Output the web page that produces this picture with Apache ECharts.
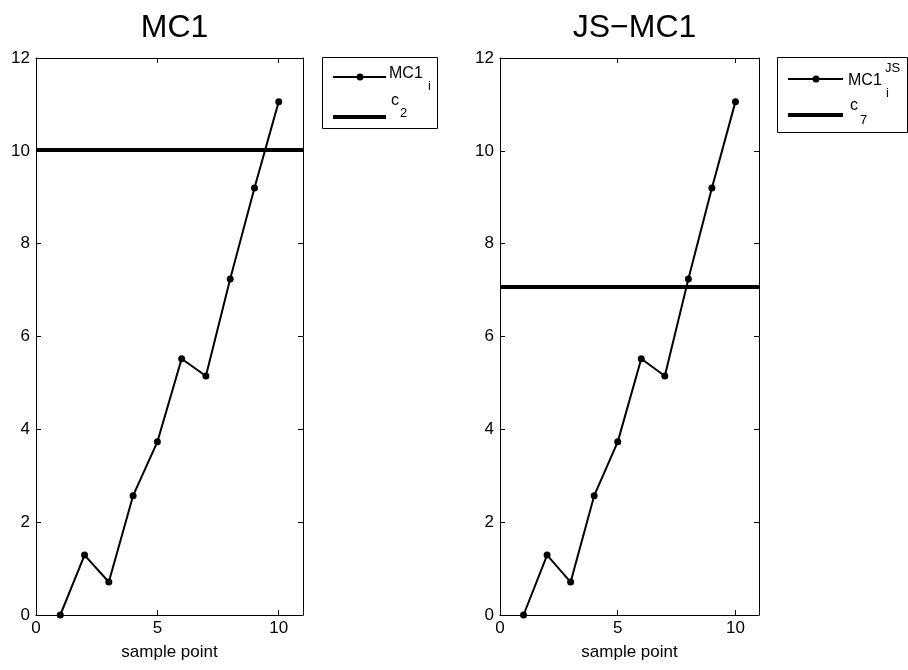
<!DOCTYPE html>
<html>
<head>
<meta charset="utf-8">
<script src="https://cdn.jsdelivr.net/npm/echarts@6/dist/echarts.min.js"></script>
<style>
  html, body { margin: 0; padding: 0; background: #fff; }
  #chart { width: 908px; height: 670px; }
</style>
</head>
<body>
<div id="chart"></div>
<script>
// sample points and values
const samplePoints = [1, 2, 3, 4, 5, 6, 7, 8, 9, 10];
const mc1 = [0, 1.29, 0.71, 2.57, 3.73, 5.52, 5.15, 7.24, 9.20, 11.06];
const mc1JS = [0, 1.29, 0.71, 2.57, 3.73, 5.52, 5.15, 7.24, 9.20, 11.06];
const c2 = 10.03;
const c7 = 7.08;
const titles = ['MC1', 'JS\u2212MC1'];

const FONT = '"Liberation Sans", Arial, Helvetica, sans-serif';
const chart = echarts.init(document.getElementById('chart'));

const grids = [
    {left: 36, top: 58, width: 267, height: 557},
    {left: 500, top: 58, width: 259, height: 557}
];

function axisLine() {
    return {show: true, onZero: false, lineStyle: {color: '#000', width: 1}};
}
const tick = {show: true, inside: true, length: 5, lineStyle: {color: '#000'}};

let xAxes = [], yAxes = [];
grids.forEach((g, i) => {
    // bottom x axis with labels
    xAxes.push({
        type: 'value', gridIndex: i, min: 0, max: 11, interval: 5,
        position: 'bottom',
        name: 'sample point', nameLocation: 'middle', nameGap: 29,
        nameTextStyle: {color: '#000', fontSize: 17, fontFamily: FONT},
        axisLine: axisLine(), axisTick: tick,
        axisLabel: {color: '#000', fontSize: 17, fontFamily: FONT, margin: 5,
            showMaxLabel: false},
        splitLine: {show: false}
    });
    // top x axis, ticks only
    xAxes.push({
        type: 'value', gridIndex: i, min: 0, max: 11, interval: 5,
        position: 'top',
        axisLine: axisLine(), axisTick: tick,
        axisLabel: {show: false},
        splitLine: {show: false}
    });
    yAxes.push({
        type: 'value', gridIndex: i, min: 0, max: 12, interval: 2,
        position: 'left',
        axisLine: axisLine(), axisTick: tick,
        axisLabel: {color: '#000', fontSize: 17, fontFamily: FONT, margin: 6},
        splitLine: {show: false}
    });
    yAxes.push({
        type: 'value', gridIndex: i, min: 0, max: 12, interval: 2,
        position: 'right',
        axisLine: axisLine(), axisTick: tick,
        axisLabel: {show: false},
        splitLine: {show: false}
    });
});

function lineSeries(values, hLine, i) {
    return {
        type: 'line',
        xAxisIndex: i * 2, yAxisIndex: i * 2,
        data: samplePoints.map((x, k) => [x, values[k]]),
        symbol: 'circle', symbolSize: 7,
        itemStyle: {color: '#000'},
        lineStyle: {color: '#000', width: 2},
        markLine: {
            silent: true, symbol: 'none', label: {show: false},
            lineStyle: {color: '#000', width: 4, type: 'solid'},
            data: [{yAxis: hLine}]
        }
    };
}

function txt(x, y, s, size) {
    return {type: 'text', x: x, y: y, z: 10,
        style: {text: s, font: size + 'px ' + FONT, fill: '#000', verticalAlign: 'middle'}};
}

// legend boxes drawn as graphics (sub/superscripts)
function legendBox(box, l1, l2, lx1, lx2, mark, texts) {
    return [
        {type: 'rect', shape: box, style: {fill: '#fff', stroke: '#000', lineWidth: 1}},
        {type: 'line', shape: {x1: lx1, y1: l1, x2: lx2, y2: l1},
            style: {stroke: '#000', lineWidth: 2}},
        {type: 'circle', shape: {cx: mark, cy: l1, r: 3.5}, style: {fill: '#000'}},
        {type: 'line', shape: {x1: lx1, y1: l2, x2: lx2, y2: l2},
            style: {stroke: '#000', lineWidth: 4}}
    ].concat(texts);
}

const graphics = [].concat(
    legendBox({x: 322.5, y: 57.5, width: 115, height: 71}, 77, 117, 333, 386, 360, [
        txt(389, 74, 'MC1', 16), txt(428, 86, 'i', 13),
        txt(391, 101, 'c', 16), txt(400, 113, '2', 13)
    ]),
    legendBox({x: 777.5, y: 57.5, width: 130, height: 75}, 79, 115, 788, 843, 816, [
        txt(848, 81, 'MC1', 16), txt(885, 68, 'JS', 13), txt(886, 93, 'i', 13),
        txt(850, 106, 'c', 16), txt(860, 120, '7', 13)
    ])
);

const option = {
    backgroundColor: '#fff',
    animation: false,
    title: titles.map((t, i) => ({
        text: t,
        left: grids[i].left + grids[i].width / 2,
        top: 7,
        textAlign: 'center',
        textStyle: {fontSize: 32, fontWeight: 'normal', color: '#000', fontFamily: FONT}
    })),
    grid: grids,
    xAxis: xAxes,
    yAxis: yAxes,
    series: [
        lineSeries(mc1, c2, 0),
        lineSeries(mc1JS, c7, 1)
    ],
    graphic: graphics
};

chart.setOption(option);
</script>
</body>
</html>
